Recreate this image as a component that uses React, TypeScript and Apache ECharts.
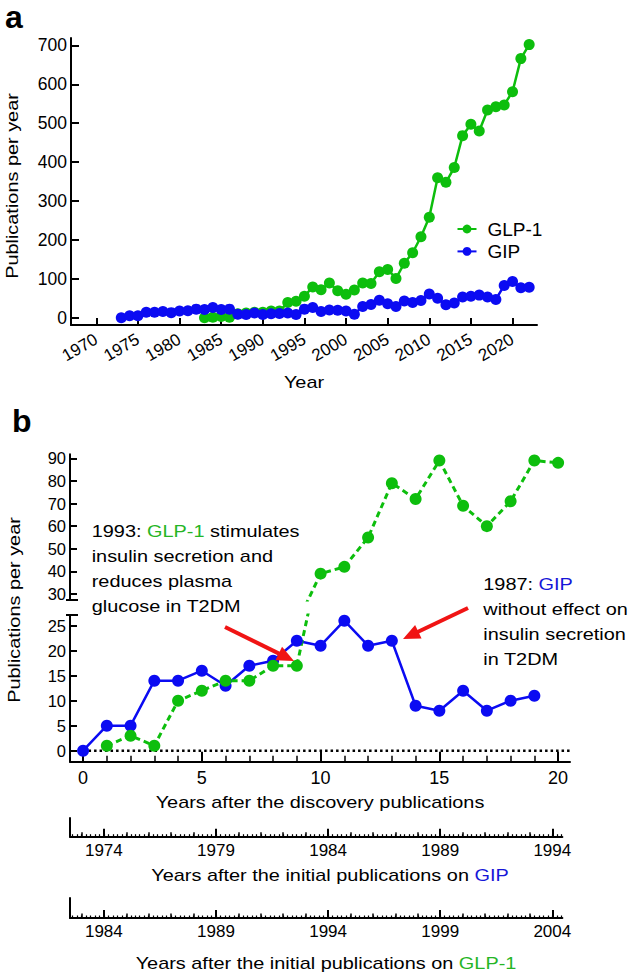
import React, { useEffect, useRef } from "react";
import * as echarts from "echarts";

// ---------- data ----------
const gipFirstYear = 1973;
const gipPerYear = [
  0, 5, 5, 14, 14, 16, 13, 17, 18, 22,
  21, 26, 21, 22, 9, 8, 12, 8, 10, 11,
  12, 8, 22, 26, 16, 20, 19, 17, 9, 29,
  34, 45, 36, 29, 43, 39, 44, 61, 50, 33,
  38, 53, 55, 58, 53, 47, 83, 93, 77, 78,
];
const glpFirstYear = 1983;
const glpPerYear = [
  0, 1, 3, 1, 10, 12, 14, 14, 17, 17,
  39, 42, 55, 79, 72, 89, 69, 60, 71, 89,
  88, 118, 124, 101, 140, 167, 208, 258, 360, 348,
  386, 468, 497, 480, 534, 542, 547, 581, 666, 702,
];
const panelAYearTicks = [1970, 1975, 1980, 1985, 1990, 1995, 2000, 2005, 2010, 2015, 2020];
const panelAValueTicks = [0, 100, 200, 300, 400, 500, 600, 700];

// panel b: years after the discovery publications
const gipDiscoveryYear = 1973;
const glpDiscoveryYear = 1983;
const gipPanelBRange = [0, 19];
const glpPanelBRange = [1, 20];
const panelBYearTicks = [0, 5, 10, 15, 20];
const panelBMinorTicks = Array.from({ length: 21 }, (_, i) => i);
const panelBUpperTicks = [30, 40, 50, 60, 70, 80, 90];
const panelBLowerTicks = [0, 5, 10, 15, 20, 25];
const gipCalendarTicks = [1974, 1979, 1984, 1989, 1994];
const glpCalendarTicks = [1984, 1989, 1994, 1999, 2004];

// ---------- style ----------
const GREEN = "#0DBE0D";
const BLUE = "#0B0BF2";
const RED = "#F01414";
const GREEN_TXT = "#25B525";
const BLUE_TXT = "#1616D8";
const FONT = '"Liberation Sans", Arial, Helvetica, sans-serif';
const S = 1.17; // horizontal stretch of the figure's lettering

const pairs = (first: number, vals: number[]) => vals.map((v, i) => [first + i, v]);
const panelB = (first: number, disc: number, vals: number[], range: number[]) =>
  vals
    .map((v, i) => [first + i - disc, v])
    .filter((p) => p[0] >= range[0] && p[0] <= range[1]);

const plain = (v: number) => String(v);
const labelStyle = (size: number) => ({ color: "#000", fontFamily: FONT, fontSize: size, formatter: plain });
const black = { color: "#000", width: 2 };

function arrow(x1: number, y1: number, x2: number, y2: number, len: number, w: number) {
  const dx = x2 - x1, dy = y2 - y1, d = Math.hypot(dx, dy);
  const ux = dx / d, uy = dy / d;
  const bx = x2 - ux * len, by = y2 - uy * len;
  const px = (-uy * w) / 2, py = (ux * w) / 2;
  return [
    { type: "line", z: 100, shape: { x1, y1, x2: bx + ux * 2, y2: by + uy * 2 }, style: { stroke: RED, lineWidth: 4 } },
    { type: "polygon", z: 100, shape: { points: [[x2, y2], [bx + px, by + py], [bx - px, by - py]] }, style: { fill: RED } },
  ];
}

function txt(x: number, y: number, text: string, opts: any = {}) {
  const size = opts.size ?? 17;
  const rich: any = {
    n: { fill: "#000", fontSize: size, fontFamily: FONT, lineHeight: opts.lh },
    g: { fill: GREEN_TXT, fontSize: size, fontFamily: FONT, lineHeight: opts.lh },
    b: { fill: BLUE_TXT, fontSize: size, fontFamily: FONT, lineHeight: opts.lh },
  };
  return {
    type: "text",
    z: 100,
    x,
    y,
    rotation: opts.rotation ?? 0,
    scaleX: opts.scaleX ?? S,
    style: {
      text,
      rich,
      fill: "#000",
      fontSize: size,
      fontFamily: FONT,
      fontWeight: opts.bold ? "bold" : "normal",
      align: opts.align ?? "center",
      textAlign: opts.align ?? "center",
      verticalAlign: opts.va ?? "middle",
      textVerticalAlign: opts.va ?? "middle",
    },
  };
}

// calendar axis (below panel b): labelled majors, yearly minors and fine dotted ticks
function calendarAxes(grid: number, min: number, max: number, majors: number[]) {
  const first = Math.ceil(min);
  const years = Array.from({ length: Math.floor(max) - first + 1 }, (_, i) => first + i);
  const fine: number[] = [];
  for (let v = Math.ceil(min * 5) / 5; v <= max; v += 0.2) fine.push(Math.round(v * 10) / 10);
  const base = { gridIndex: grid, type: "value", min, max, position: "bottom", splitLine: { show: false } };
  return [
    {
      ...base,
      axisLine: { show: true, onZero: false, lineStyle: black },
      axisTick: { show: true, inside: true, length: 8, customValues: majors, lineStyle: black },
      axisLabel: { ...labelStyle(17), margin: 5, customValues: majors },
    },
    {
      ...base,
      axisLine: { show: false, onZero: false },
      axisTick: { show: true, inside: true, length: 4.5, customValues: years, lineStyle: { color: "#000", width: 1.5 } },
      axisLabel: { show: false },
    },
    {
      ...base,
      axisLine: { show: false, onZero: false },
      axisTick: { show: true, inside: true, length: 2.5, customValues: fine, lineStyle: { color: "#000", width: 1.2 } },
      axisLabel: { show: false },
    },
  ];
}

export default function App() {
  const ref = useRef<HTMLDivElement>(null);
  useEffect(() => {
    if (!ref.current) return;
    const chart = echarts.init(ref.current, undefined, { renderer: "svg" });

    const glpA = pairs(glpFirstYear, glpPerYear);
    const gipA = pairs(gipFirstYear, gipPerYear);
    const gipB = panelB(gipFirstYear, gipDiscoveryYear, gipPerYear, gipPanelBRange);
    const glpB = panelB(glpFirstYear, glpDiscoveryYear, glpPerYear, glpPanelBRange);

    const bMin = -0.55, bMax = 20.5;

    const option: any = {
      animation: false,
      backgroundColor: "#fff",
      grid: [
        { left: 71, top: 38, width: 466, height: 287 },
        { left: 70, top: 454.3, width: 500, height: 145.7 },
        { left: 70, top: 615, width: 500, height: 146.7 },
        { left: 70, top: 818, width: 492.4, height: 18.7 },
        { left: 70, top: 898, width: 492.4, height: 20 },
      ],
      xAxis: [
        {
          gridIndex: 0, type: "value", min: 1966.96, max: 2022.94,
          axisLine: { show: true, onZero: false, lineStyle: black },
          axisTick: { show: true, inside: true, length: 7, customValues: panelAYearTicks, lineStyle: black },
          axisLabel: { ...labelStyle(17), rotate: 30, margin: 13, customValues: panelAYearTicks },
          splitLine: { show: false },
        },
        { gridIndex: 1, type: "value", min: bMin, max: bMax, show: false },
        {
          gridIndex: 2, type: "value", min: bMin, max: bMax, position: "bottom",
          axisLine: { show: true, onZero: false, lineStyle: black },
          axisTick: { show: true, inside: true, length: 10, customValues: panelBYearTicks, lineStyle: black },
          axisLabel: { ...labelStyle(18), margin: 7, customValues: panelBYearTicks },
          splitLine: { show: false },
        },
        {
          gridIndex: 2, type: "value", min: bMin, max: bMax, position: "bottom",
          axisLine: { show: false, onZero: false },
          axisTick: { show: true, inside: true, length: 6, customValues: panelBMinorTicks, lineStyle: { color: "#000", width: 1.5 } },
          axisLabel: { show: false },
          splitLine: { show: false },
        },
        ...calendarAxes(3, 1972.49, 1994.45, gipCalendarTicks),
        ...calendarAxes(4, 1982.49, 2004.45, glpCalendarTicks),
      ],
      yAxis: [
        {
          gridIndex: 0, type: "value", min: -18.8, max: 719,
          axisLine: { show: true, onZero: false, lineStyle: black },
          axisTick: { show: true, inside: true, length: 8, customValues: panelAValueTicks, lineStyle: black },
          axisLabel: { ...labelStyle(17.5), margin: 4, customValues: panelAValueTicks },
          splitLine: { show: false },
        },
        {
          gridIndex: 1, type: "value", min: 27.35, max: 91.77,
          axisLine: { show: true, onZero: false, lineStyle: black },
          axisTick: { show: true, inside: true, length: 7, customValues: panelBUpperTicks, lineStyle: black },
          axisLabel: { ...labelStyle(16.5), margin: 4, customValues: panelBUpperTicks },
          splitLine: { show: false },
        },
        {
          gridIndex: 2, type: "value", min: -2.2, max: 27.14,
          axisLine: { show: true, onZero: false, lineStyle: black },
          axisTick: { show: true, inside: true, length: 7, customValues: panelBLowerTicks, lineStyle: black },
          axisLabel: { ...labelStyle(16.5), margin: 4, customValues: panelBLowerTicks },
          splitLine: { show: false },
        },
        {
          gridIndex: 3, type: "value", min: 0, max: 1,
          axisLine: { show: true, onZero: false, lineStyle: black },
          axisTick: { show: false }, axisLabel: { show: false }, splitLine: { show: false },
        },
        {
          gridIndex: 4, type: "value", min: 0, max: 1,
          axisLine: { show: true, onZero: false, lineStyle: black },
          axisTick: { show: false }, axisLabel: { show: false }, splitLine: { show: false },
        },
      ],
      legend: {
        data: ["GLP-1", "GIP"],
        orient: "vertical",
        left: 456.5,
        top: 219,
        padding: 0,
        itemWidth: 19,
        itemHeight: 11,
        itemGap: 2.4,
        textStyle: { color: "#000", fontFamily: FONT, fontSize: 19, padding: [0, 0, 0, 6], lineHeight: 20 },
      },
      series: [
        {
          name: "GLP-1", type: "line", xAxisIndex: 0, yAxisIndex: 0, data: glpA,
          symbol: "circle", symbolSize: 11, color: GREEN,
          lineStyle: { color: GREEN, width: 2.5 }, itemStyle: { color: GREEN },
        },
        {
          name: "GIP", type: "line", xAxisIndex: 0, yAxisIndex: 0, data: gipA,
          symbol: "circle", symbolSize: 11, color: BLUE,
          lineStyle: { color: BLUE, width: 2.5 }, itemStyle: { color: BLUE },
        },
        {
          name: "zero", type: "line", xAxisIndex: 2, yAxisIndex: 2, data: [[0, 0], [bMax, 0]],
          symbol: "none", z: 1, silent: true,
          lineStyle: { color: "#000", width: 2.5, type: [2.5, 3] },
        },
        {
          name: "GIP (b)", type: "line", xAxisIndex: 2, yAxisIndex: 2, data: gipB,
          symbol: "circle", symbolSize: 12, clip: true,
          lineStyle: { color: BLUE, width: 2.5 }, itemStyle: { color: BLUE },
        },
        {
          name: "GLP-1 (b)", type: "line", xAxisIndex: 2, yAxisIndex: 2, data: glpB,
          symbol: "circle", symbolSize: 12, clip: true,
          lineStyle: { color: GREEN, width: 3, type: [6, 4] }, itemStyle: { color: GREEN },
        },
        {
          name: "GLP-1 (b upper)", type: "line", xAxisIndex: 1, yAxisIndex: 1, data: glpB,
          symbol: "circle", symbolSize: 12, clip: true,
          lineStyle: { color: GREEN, width: 3, type: [6, 4] }, itemStyle: { color: GREEN },
        },
      ],
      graphic: [
        txt(5, 16.5, "a", { size: 32, bold: true, align: "left", scaleX: 1 }),
        txt(12, 420.5, "b", { size: 32, bold: true, align: "left", scaleX: 1 }),
        txt(12, 186, "{n|Publications per year}", { rotation: Math.PI / 2 }),
        txt(304, 382, "{n|Year}"),
        txt(14, 610, "{n|Publications per year}", { rotation: Math.PI / 2 }),
        txt(320, 802, "{n|Years after the discovery publications}"),
        txt(330, 875, "{n|Years after the initial publications on }{b|GIP}"),
        txt(326, 963, "{n|Years after the initial publications on }{g|GLP-1}"),
        txt(
          91.7, 519,
          "{n|1993: }{g|GLP-1}{n| stimulates}\n{n|insulin secretion and}\n{n|reduces plasma}\n{n|glucose in T2DM}",
          { align: "left", va: "top", lh: 25 }
        ),
        txt(
          483.3, 572,
          "{n|1987: }{b|GIP}\n{n|without effect on}\n{n|insulin secretion}\n{n|in T2DM}",
          { align: "left", va: "top", lh: 25 }
        ),
        { type: "line", z: 100, shape: { x1: 66, y1: 600, x2: 78, y2: 600 }, style: { stroke: "#000", lineWidth: 2 } },
        { type: "line", z: 100, shape: { x1: 66, y1: 615, x2: 78, y2: 615 }, style: { stroke: "#000", lineWidth: 2 } },
        ...arrow(225, 627, 294, 661, 17, 15),
        ...arrow(468, 608, 403, 639, 17, 15),
      ],
    };
    chart.setOption(option);
    return () => chart.dispose();
  }, []);
  return (
    <div
      ref={ref}
      style={{ position: "fixed", left: 0, top: 0, width: 630, height: 977, background: "#fff" }}
    />
  );
}
